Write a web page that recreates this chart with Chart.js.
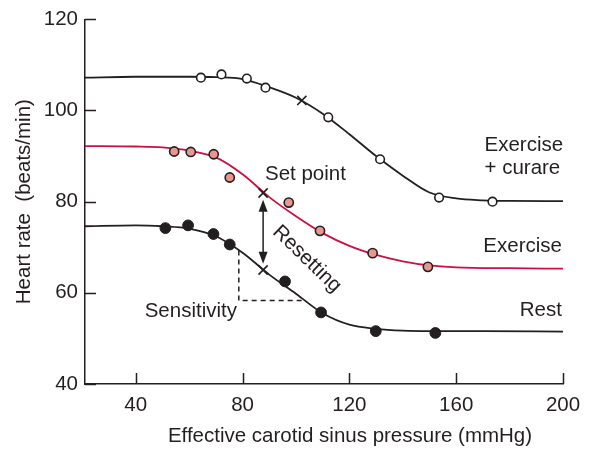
<!DOCTYPE html>
<html><head><meta charset="utf-8">
<script src="https://cdn.jsdelivr.net/npm/chart.js@4"></script>
<style>html,body{margin:0;padding:0;background:#fff}</style>
</head><body>
<canvas id="c" width="591" height="449"></canvas>
<script>
// ---- data ----
const ticksX = [40, 80, 120, 160, 200];
const ticksY = [40, 60, 80, 100, 120];

// Exercise + curare (open circles)
const curareX = [64.4, 72.1, 81.6, 88.6, 112.1, 131.5, 153.6, 173.6];
const curareY = [107.2, 107.9, 107.0, 105.0, 98.5, 89.3, 80.9, 80.0];
const curareCurveX = [21, 40, 60, 70, 80, 90, 100, 110, 120, 130, 140, 150, 160, 170, 180, 200];
const curareCurveY = [107.2, 107.4, 107.4, 107.3, 106.9, 105.1, 102.8, 99.3, 94.8, 90.0, 85.7, 82.0, 80.7, 80.3, 80.15, 80.1];

// Exercise (pink circles)
const exerciseX = [54.4, 60.6, 69.2, 75.2, 97.3, 109.0, 128.7, 149.4];
const exerciseY = [91.0, 90.9, 90.4, 85.3, 79.8, 73.6, 68.7, 65.7];
const exerciseCurveX = [21, 40, 50, 60, 70, 80, 90, 100, 110, 120, 130, 140, 150, 160, 180, 200];
const exerciseCurveY = [92.2, 92.1, 91.9, 91.2, 89.7, 86.0, 81.0, 76.8, 73.1, 70.3, 68.3, 66.9, 66.0, 65.6, 65.4, 65.3];

// Rest (filled circles)
const restX = [51.1, 59.6, 69.1, 75.2, 95.9, 109.4, 129.9, 152.2];
const restY = [74.2, 74.8, 72.9, 70.6, 62.5, 55.7, 51.6, 51.2];
const restCurveX = [21, 40, 50, 60, 70, 80, 90, 100, 110, 120, 130, 140, 150, 170, 200];
const restCurveY = [74.6, 74.8, 74.6, 74.1, 72.4, 68.8, 64.0, 59.8, 55.5, 53.0, 52.1, 51.7, 51.6, 51.6, 51.5];

// Set points (crosses)
const setX = [102.2, 87.7, 87.7];
const setY = [102.2, 81.9, 65.0];

// Sensitivity construction (dashed)
const sensX = [78.6, 78.6, 103.4];
const sensY = [69.3, 58.3, 58.3];

// Resetting arrow (value range)
const arrowX = 87.7;
const arrowFrom = 66.4;
const arrowTo = 80.4;

const xTitle = 'Effective carotid sinus pressure (mmHg)';
const yTitle = 'Heart rate  (beats/min)';

const notes = [
  {text: 'Set point', x: 88.4, y: 85.9, align: 'left'},
  {text: 'Resetting', x: 104.1, y: 67.4, align: 'center', rot: 44},
  {text: 'Sensitivity', x: 77.9, y: 56.0, align: 'right'},
  {text: 'Exercise', x: 170.6, y: 92.4, align: 'left'},
  {text: '+ curare', x: 170.6, y: 87.4, align: 'left'},
  {text: 'Exercise', x: 199.6, y: 70.3, align: 'right'},
  {text: 'Rest', x: 199.6, y: 56.1, align: 'right'}
];

// ---- styles ----
const INK = '#231f20';
const RED = '#cc1041';
const PINK = '#e8968f';
const FONT = '"Liberation Sans", Arial, Helvetica, sans-serif';
const FS = 20.5;

const pts = (xs, ys) => xs.map((x, i) => ({x, y: ys[i]}));

const decor = {
  id: 'decor',
  afterDatasetsDraw(chart) {
    const {ctx, scales: {x, y}} = chart;
    ctx.save();
    // inward tick marks
    ctx.strokeStyle = INK; ctx.lineWidth = 1.5;
    ctx.beginPath();
    ticksX.forEach(v => { const p = Math.round(x.getPixelForValue(v)) + 0.5; ctx.moveTo(p, y.bottom); ctx.lineTo(p, y.bottom - 11); });
    ticksY.forEach(v => { const p = Math.round(y.getPixelForValue(v)) + 0.5; ctx.moveTo(x.left, p); ctx.lineTo(x.left + 11, p); });
    ctx.stroke();
    // arrow
    const ax = x.getPixelForValue(arrowX);
    const a1 = y.getPixelForValue(arrowTo), a2 = y.getPixelForValue(arrowFrom);
    const hl = 12, hw = 4.5;
    ctx.fillStyle = INK; ctx.lineWidth = 1.5;
    ctx.beginPath(); ctx.moveTo(ax, a1 + hl - 1); ctx.lineTo(ax, a2 - hl + 1); ctx.stroke();
    ctx.beginPath(); ctx.moveTo(ax, a1); ctx.lineTo(ax - hw, a1 + hl); ctx.lineTo(ax + hw, a1 + hl); ctx.closePath(); ctx.fill();
    ctx.beginPath(); ctx.moveTo(ax, a2); ctx.lineTo(ax - hw, a2 - hl); ctx.lineTo(ax + hw, a2 - hl); ctx.closePath(); ctx.fill();
    // notes
    ctx.font = FS + 'px ' + FONT;
    ctx.fillStyle = INK;
    ctx.textBaseline = 'middle';
    notes.forEach(n => {
      const px = x.getPixelForValue(n.x), py = y.getPixelForValue(n.y);
      ctx.save();
      ctx.translate(px, py);
      if (n.rot) ctx.rotate(n.rot * Math.PI / 180);
      ctx.textAlign = n.align;
      ctx.fillText(n.text, 0, 0);
      ctx.restore();
    });
    // x axis title (offset right of centre, as in the original)
    ctx.textAlign = 'center';
    ctx.fillText(xTitle, 350, 436);
    ctx.restore();
  }
};

new Chart(document.getElementById('c'), {
  type: 'scatter',
  data: {
    datasets: [
      {data: pts(curareX, curareY), pointRadius: 4.3, pointBorderWidth: 1.6, pointBackgroundColor: '#fff', pointBorderColor: INK, order: 0},
      {data: pts(exerciseX, exerciseY), pointRadius: 4.6, pointBorderWidth: 1.6, pointBackgroundColor: PINK, pointBorderColor: INK, order: 0},
      {data: pts(restX, restY), pointRadius: 5.4, pointBorderWidth: 1, pointBackgroundColor: INK, pointBorderColor: INK, order: 0},
      {data: pts(setX, setY), pointStyle: 'crossRot', pointRadius: 6.5, pointBorderWidth: 1.6, pointBorderColor: INK, order: 0},
      {data: pts(curareCurveX, curareCurveY), showLine: true, pointRadius: 0, borderColor: INK, borderWidth: 1.8, cubicInterpolationMode: 'monotone', order: 2},
      {data: pts(exerciseCurveX, exerciseCurveY), showLine: true, pointRadius: 0, borderColor: RED, borderWidth: 1.8, cubicInterpolationMode: 'monotone', order: 2},
      {data: pts(restCurveX, restCurveY), showLine: true, pointRadius: 0, borderColor: INK, borderWidth: 1.8, cubicInterpolationMode: 'monotone', order: 2},
      {data: pts(sensX, sensY), showLine: true, pointRadius: 0, borderColor: INK, borderWidth: 1.5, borderDash: [5, 4], tension: 0, order: 3}
    ]
  },
  options: {
    responsive: false,
    animation: false,
    events: [],
    layout: {padding: {top: 16, right: 28, left: 0, bottom: 0}},
    plugins: {legend: {display: false}, tooltip: {enabled: false}},
    scales: {
      x: {
        type: 'linear', min: 21, max: 200,
        afterBuildTicks: s => { s.ticks = ticksX.map(v => ({value: v})); },
        afterFit: s => { s.height = 65; },
        grid: {display: false, drawTicks: false},
        border: {display: true, color: INK, width: 1.5},
        ticks: {color: INK, font: {family: FONT, size: FS}, padding: 9, maxRotation: 0},
        title: {display: false}
      },
      y: {
        type: 'linear', min: 40, max: 120,
        afterBuildTicks: s => { s.ticks = ticksY.map(v => ({value: v})); },
        afterFit: s => { s.width = 85; },
        grid: {display: false, drawTicks: false},
        border: {display: true, color: INK, width: 1.5},
        ticks: {color: INK, font: {family: FONT, size: FS}, padding: 7},
        title: {display: true, text: yTitle, color: INK, font: {family: FONT, size: FS}, padding: {top: 12, bottom: 0}}
      }
    }
  },
  plugins: [decor]
});
</script>
</body></html>
